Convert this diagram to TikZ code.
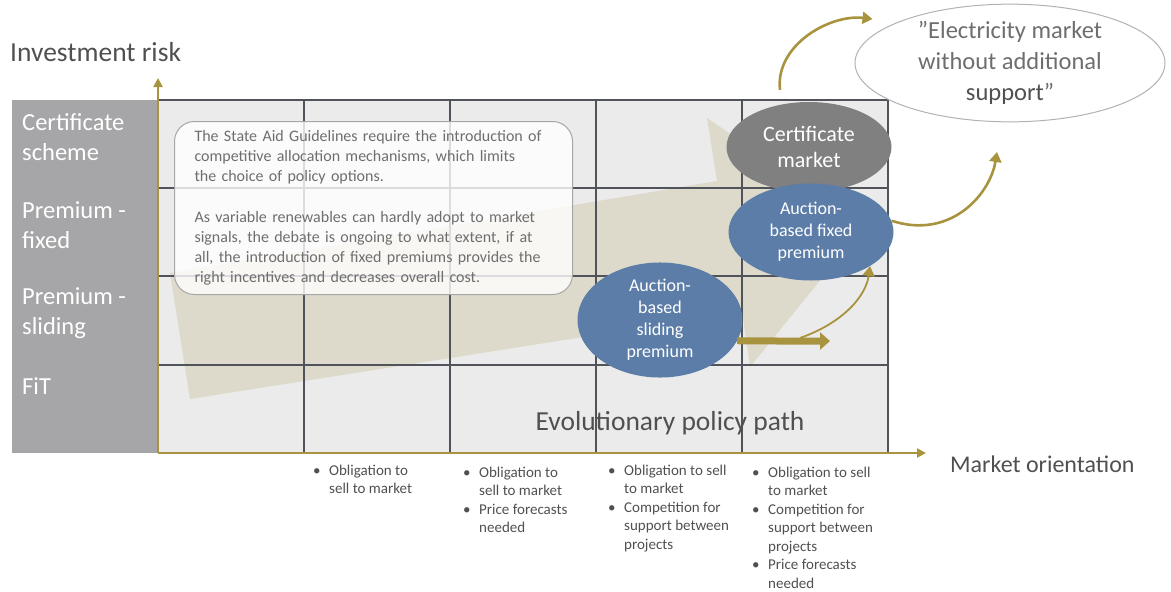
\documentclass[tikz,border=0pt]{standalone}
\usepackage{fontspec}
\setmainfont{Carlito}
\usepackage{tikz}
\usetikzlibrary{arrows.meta,shapes.geometric}

\definecolor{bandgrey}{RGB}{166,166,168}
\definecolor{cellgrey}{RGB}{235,235,235}
\definecolor{linegrey}{RGB}{80,84,90}
\definecolor{axisgold}{RGB}{168,147,62}
\definecolor{pathbeige}{RGB}{222,218,203}
\definecolor{certgrey}{RGB}{128,128,128}
\definecolor{auctblue}{RGB}{91,125,168}
\definecolor{txtgrey}{RGB}{110,110,110}
\definecolor{darkgrey}{RGB}{80,80,80}

\newcommand{\fs}[2]{\fontsize{#1}{#2}\selectfont}
\newcommand{\bul}{\hspace{2pt}\textbullet}

\begin{document}
\begin{tikzpicture}[x=1pt,y=-1pt,
  gridline/.style={draw=linegrey,line width=1.3pt},
  axis/.style={draw=axisgold,line width=2.6pt,-{Triangle[length=9pt,width=9pt]}},
  rowlabel/.style={anchor=west,text=white,align=left,inner sep=0pt,font=\fs{24.5}{30}},
  bubble/.style={ellipse,inner sep=0pt,minimum width=165pt,text=white,align=center},
  bullets/.style={anchor=north west,inner sep=0pt,text=darkgrey,font=\fs{15}{18.5}},
  swing/.style={draw=axisgold,line width=2.6pt,-{Triangle[length=10pt,width=12pt]}}]
\useasboundingbox (0,0) rectangle (1171,592);

% background and evolutionary path
\fill[bandgrey] (12,100) rectangle (158,453);
\fill[cellgrey] (158,100) rectangle (888,453);
\fill[pathbeige] (190,399) -- (170,273) -- (717,181) -- (707,118) -- (865,225)
  -- (750,367) -- (742,312) -- cycle;

% grid
\foreach \x in {158,304,...,888}
  \draw[gridline] (\x,100) -- (\x,453);
\foreach \y in {100,188,276,365,453}
  \draw[gridline] (158,\y) -- (888,\y);

% axes
\coordinate (origin) at (158,453);
\draw[axis] (origin) -- (158,78);
\draw[axis] (origin) -- (926,453);
\node[anchor=west,inner sep=0pt,text=darkgrey,font=\fs{27.5}{32}] (yaxis) at (10,52) {Investment risk};
\node[anchor=west,inner sep=0pt,text=darkgrey,font=\fs{24}{28}] (xaxis) at (950,464) {Market orientation};

% row labels
\node[rowlabel] (certrow) at (22,137) {Certificate\\scheme};
\node[rowlabel] (fixrow) at (22,225) {Premium -\\fixed};
\node[rowlabel] (sliderow) at (22,313) {Premium -\\sliding};
\node[rowlabel] (fitrow) at (22,386) {FiT};

% comment box
\node[anchor=north west,draw=black!35,line width=1pt,fill=white,fill opacity=0.8,text opacity=1,
  rounded corners=20pt,minimum width=398pt,minimum height=173pt,inner xsep=20pt,
  text width=358pt,align=left,text=txtgrey,font=\fs{16}{20.2}] (guide) at (174,121)
  {The State Aid Guidelines require the introduction of\\
   competitive allocation mechanisms, which limits\\
   the choice of policy options.\\[20.2pt]
   As variable renewables can hardly adopt to market\\
   signals, the debate is ongoing to what extent, if at\\
   all, the introduction of fixed premiums provides the\\
   right incentives and decreases overall cost.};

\node[inner sep=0pt,text=darkgrey,font=\fs{27.5}{30}] (evopath) at (670,423) {Evolutionary policy path};

% instruments
\node[bubble,fill=certgrey,minimum height=90pt,font=\fs{22}{26}] (certmkt) at (809,147) {Certificate\\market};
\node[bubble,fill=auctblue,minimum height=97pt,font=\fs{18}{22}] (fixprem) at (811,232) {Auction-\\based fixed\\premium};
\node[bubble,fill=auctblue,minimum height=95pt,font=\fs{18}{22}] (slideprem) at (660,320) {Auction-\\based\\sliding\\premium};
\node[ellipse,draw=black!30,line width=1pt,fill=white,inner sep=0pt,minimum width=310pt,minimum height=106pt,
  text=txtgrey,align=center,font=\fs{24.5}{31}] (nosupport) at (1010,63)
  {”Electricity market\\without additional\\\textcolor{darkgrey}{support}”};

% transitions
\coordinate (shaftend) at (830,341);
\coordinate (branch) at (800,338);
\coordinate (risetip) at (997,152);
\draw[draw=axisgold,line width=7pt,-{Triangle[length=10pt,width=17pt]}]
  (slideprem.-15) .. controls (745,341) .. (shaftend);
\draw[swing,line width=1.8pt] (branch) .. controls (845,322) and (866,295) .. (fixprem.-30);
\draw[swing] (fixprem.8) .. controls (950,240) and (990,195) .. (risetip);
\draw[swing] ([xshift=-29pt,yshift=12pt]certmkt.north) .. controls (775,45) and (830,14)
  .. ([xshift=18pt,yshift=44pt]nosupport.west);

% properties
\node[bullets] (propone) at (311,462)
  {\begin{tabular}{@{}p{18pt}@{}l@{}}
   \bul & Obligation to\\ & sell to market
   \end{tabular}};
\node[bullets] (proptwo) at (461,464)
  {\begin{tabular}{@{}p{18pt}@{}l@{}}
   \bul & Obligation to\\ & sell to market\\
   \bul & Price forecasts\\ & needed
   \end{tabular}};
\node[bullets] (propthree) at (606,462)
  {\begin{tabular}{@{}p{18pt}@{}l@{}}
   \bul & Obligation to sell\\ & to market\\
   \bul & Competition for\\ & support between\\ & projects
   \end{tabular}};
\node[bullets] (propfour) at (750,464)
  {\begin{tabular}{@{}p{18pt}@{}l@{}}
   \bul & Obligation to sell\\ & to market\\
   \bul & Competition for\\ & support between\\ & projects\\
   \bul & Price forecasts\\ & needed
   \end{tabular}};
\end{tikzpicture}
\end{document}
